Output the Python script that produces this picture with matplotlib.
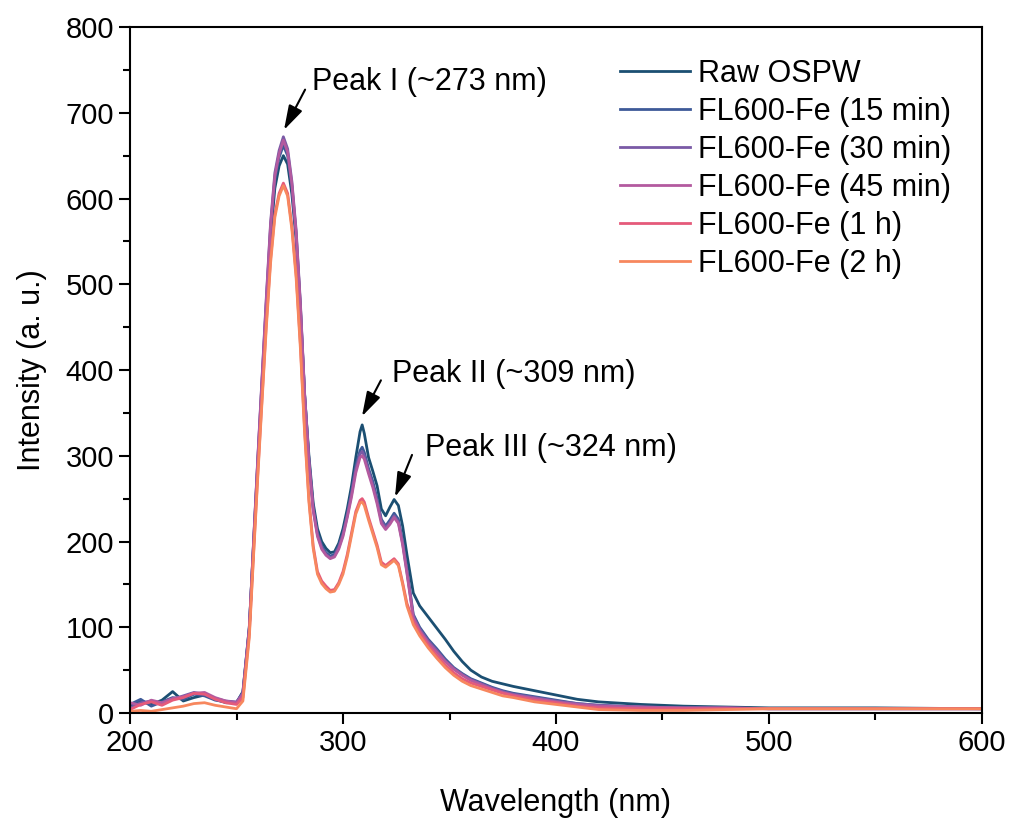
import matplotlib.pyplot as plt

plt.rcParams['font.family'] = ['Liberation Sans', 'DejaVu Sans']

# wavelength grid (nm)
wl = [200, 205, 210, 215, 220, 225, 230, 235, 240, 245, 250, 253, 256, 258,
      260, 262, 264, 266, 268, 270, 272, 274, 276, 278, 280, 282, 284, 286,
      288, 290, 292, 294, 296, 298, 300, 302, 304, 306, 308, 309, 310, 312,
      314, 316, 318, 320, 322, 324, 326, 328, 330, 333, 336, 340, 344, 348,
      352, 356, 360, 365, 370, 375, 380, 390, 400, 410, 420, 440, 460, 480,
      500, 550, 600]

raw = [8, 14, 10, 15, 25, 14, 18, 21, 16, 12, 12, 25, 100, 195,
       290, 380, 470, 555, 612, 638, 650, 640, 605, 552, 470, 370, 300, 245,
       215, 200, 192, 187, 188, 198, 215, 238, 265, 298, 328, 336, 326, 298,
       282, 265, 238, 230, 240, 249, 242, 218, 185, 140, 125, 112, 99, 86,
       72, 60, 50, 42, 37, 34, 31, 26, 21, 16, 13, 10, 8, 7,
       6, 6, 5]

m15 = [10, 16, 8, 13, 18, 16, 22, 20, 15, 13, 12, 24, 100, 198,
       295, 387, 478, 565, 622, 648, 662, 650, 614, 558, 474, 370, 296, 240,
       210, 195, 187, 183, 185, 195, 210, 232, 258, 288, 306, 310, 304, 285,
       270, 250, 226, 218, 225, 233, 226, 200, 168, 115, 100, 86, 75, 63,
       53, 46, 40, 35, 30, 26, 23, 19, 15, 11, 9, 7, 6, 6,
       5, 5, 5]

m30 = [6, 12, 14, 10, 16, 20, 24, 22, 17, 14, 13, 23, 98, 200,
       298, 392, 485, 572, 630, 656, 672, 658, 620, 563, 478, 372, 295, 238,
       208, 193, 185, 181, 183, 193, 208, 230, 255, 284, 302, 305, 300, 282,
       266, 247, 224, 216, 222, 230, 223, 198, 165, 113, 98, 84, 73, 61,
       52, 45, 39, 34, 29, 25, 22, 18, 14, 11, 9, 7, 6, 6,
       5, 5, 5]

m45 = [12, 9, 15, 12, 17, 19, 23, 24, 18, 14, 12, 22, 98, 198,
       296, 390, 482, 569, 626, 652, 668, 654, 617, 560, 475, 370, 293, 236,
       206, 191, 184, 180, 182, 191, 206, 228, 252, 280, 298, 300, 296, 279,
       263, 244, 221, 214, 220, 228, 221, 196, 163, 111, 96, 82, 71, 60,
       51, 44, 38, 33, 28, 24, 21, 17, 13, 10, 8, 7, 6, 6,
       5, 5, 5]

h1 = [4, 10, 13, 9, 15, 18, 23, 22, 16, 12, 10, 18, 92, 187,
      280, 368, 455, 530, 582, 606, 618, 606, 568, 512, 430, 330, 250, 195,
      165, 154, 148, 143, 144, 152, 165, 185, 210, 235, 248, 250, 246, 228,
      212, 196, 176, 172, 176, 180, 174, 152, 128, 107, 94, 79, 67, 56,
      47, 40, 35, 31, 27, 23, 20, 15, 12, 8, 6, 5, 5, 5,
      5, 5, 5]

h2 = [2, 3, 2, 4, 6, 8, 11, 12, 9, 7, 5, 14, 88, 183,
      276, 364, 450, 525, 578, 603, 615, 603, 564, 507, 425, 325, 246, 192,
      162, 151, 145, 141, 142, 150, 162, 182, 207, 232, 245, 246, 242, 225,
      209, 193, 173, 170, 174, 178, 172, 150, 125, 103, 90, 76, 64, 53,
      44, 37, 32, 28, 24, 20, 18, 13, 10, 7, 4, 3, 3, 4,
      5, 5, 5]

labels = ["Raw OSPW", "FL600-Fe (15 min)", "FL600-Fe (30 min)",
          "FL600-Fe (45 min)", "FL600-Fe (1 h)", "FL600-Fe (2 h)"]
colors = ["#1b4f72", "#3d5a98", "#7a5aa6", "#b35a9f", "#e55a7a", "#f7875e"]

fig = plt.figure(figsize=(10.11, 8.19), dpi=100)
ax = fig.add_axes([0.1286, 0.1294, 0.8427, 0.8376])

for y, lab, c in zip([raw, m15, m30, m45, h1, h2], labels, colors):
    ax.plot(wl, y, color=c, lw=2, label=lab)

ax.set_xlim(200, 600)
ax.set_ylim(0, 800)
ax.set_xticks([200, 300, 400, 500, 600])
ax.set_xticks([250, 350, 450, 550], minor=True)
ax.set_yticks(range(0, 801, 100))
ax.set_yticks(range(50, 800, 100), minor=True)
ax.tick_params(which='both', direction='out', top=False, right=False,
               labelsize=21, width=1.5)
ax.tick_params(which='major', length=8)
ax.tick_params(which='minor', length=5)
for s in ax.spines.values():
    s.set_linewidth(1.5)

ax.set_xlabel('Wavelength (nm)', fontsize=22, labelpad=22)
ax.set_ylabel('Intensity (a. u.)', fontsize=22, labelpad=13)

arrow = dict(arrowstyle='-|>,head_width=0.3,head_length=1.0', color='black',
             lw=1.5, shrinkA=0, shrinkB=0, mutation_scale=15)
peaks = [('Peak I (~273 nm)', (285.4, 736), (282.2, 727), (272.3, 680)),
         ('Peak II (~309 nm)', (323, 395), (317.8, 388), (308.9, 346)),
         ('Peak III (~324 nm)', (338.5, 309), (332.4, 301), (324.4, 252))]
for txt, tpos, tail, tip in peaks:
    ax.text(tpos[0], tpos[1], txt, fontsize=22, va='center', ha='left')
    ax.annotate('', xy=tip, xytext=tail, arrowprops=arrow)

ax.legend(loc='upper left', bbox_to_anchor=(620 / 1011, 1 - 59 / 819),
          bbox_transform=fig.transFigure, frameon=False, fontsize=22,
          borderpad=0, borderaxespad=0, handlelength=2.3,
          labelspacing=0.26, handletextpad=0.25)

fig.savefig('out.png')
